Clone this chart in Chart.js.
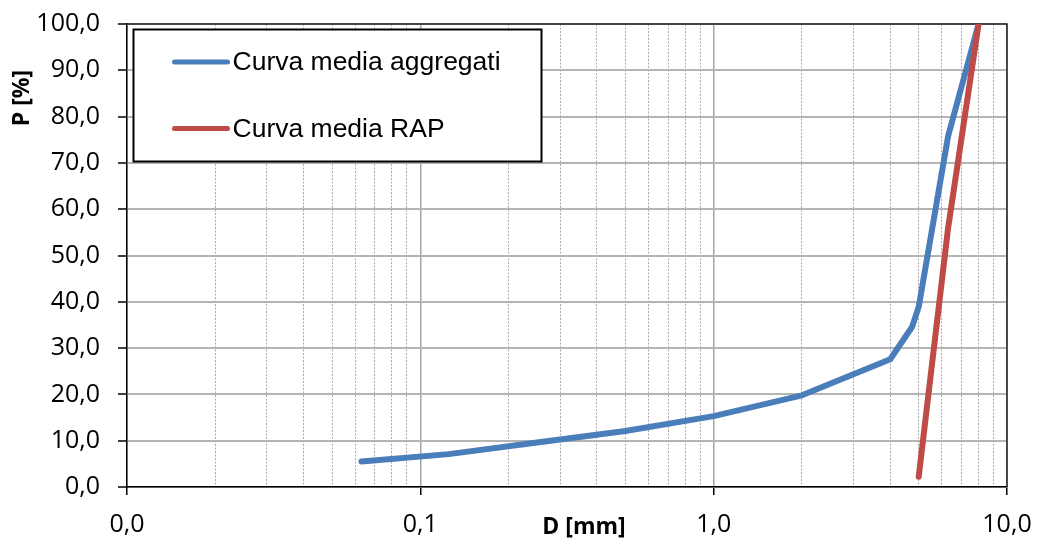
<!DOCTYPE html>
<html>
<head>
<meta charset="utf-8">
<script src="https://cdn.jsdelivr.net/npm/chart.js@4/dist/chart.umd.min.js"></script>
<style>
  html, body { margin: 0; padding: 0; background: #fff; }
  canvas { display: block; }
</style>
</head>
<body>
<canvas id="c" width="1038" height="543"></canvas>
<script>
// Grading curves: sieve size D [mm] vs passing P [%]
const sizesAggregati = [0.063, 0.125, 0.25, 0.5, 1, 2, 4, 4.75, 5, 6.3, 8];
const passAggregati  = [5.5, 7.1, 9.6, 12.1, 15.3, 19.8, 27.6, 34.6, 38.9, 75.8, 100];

const sizesRap = [5, 6.3, 8];
const passRap  = [2.2, 56, 100];

const seriesLabels = ['Curva media aggregati', 'Curva media RAP'];
const seriesColors = ['#4A7EBB', '#BE4B48'];

const xTitle = 'D [mm]';
const yTitle = 'P [%]';

const xMin = 0.01, xMax = 10;
const yMin = 0, yMax = 100, yStep = 10;

const fmt = v => Number(v).toFixed(1).replace('.', ',');
const isDecade = v => Math.abs(Math.log10(v) - Math.round(Math.log10(v))) < 1e-9;

const toPoints = (xs, ys) => xs.map((x, i) => ({ x: x, y: ys[i] }));

const TICK_FONT = { family: 'Open Sans', size: 25 };
const TITLE_FONT = "bold 23px 'Open Sans'";

// Top and right edges of the plot frame
const frame = {
  id: 'frame',
  beforeDatasetsDraw(chart) {
    const { ctx, chartArea: a } = chart;
    ctx.save();
    ctx.strokeStyle = '#222';
    ctx.lineWidth = 1.5;
    ctx.beginPath();
    ctx.moveTo(a.left, a.top);
    ctx.lineTo(a.right, a.top);
    ctx.lineTo(a.right, a.bottom);
    ctx.stroke();
    ctx.restore();
  }
};

// Axis titles and boxed legend drawn on top of the plot
const overlay = {
  id: 'overlay',
  afterDraw(chart) {
    const { ctx, chartArea } = chart;
    ctx.save();
    // axis titles
    ctx.fillStyle = '#000';
    ctx.font = TITLE_FONT;
    ctx.textAlign = 'center';
    ctx.textBaseline = 'middle';
    ctx.fillText(xTitle, chartArea.left + 457, chartArea.bottom + 40);
    ctx.save();
    ctx.translate(chartArea.left - 105, chartArea.top + 74);
    ctx.rotate(-Math.PI / 2);
    ctx.fillText(yTitle, 0, 0);
    ctx.restore();

    // legend box
    const bx = chartArea.left + 6.5, by = chartArea.top + 5.5, bw = 408, bh = 132;
    ctx.fillStyle = '#fff';
    ctx.fillRect(bx, by, bw, bh);
    ctx.lineWidth = 2;
    ctx.strokeStyle = '#000';
    ctx.strokeRect(bx, by, bw, bh);
    ctx.font = "26.5px 'Liberation Sans'";
    ctx.textAlign = 'left';
    ctx.textBaseline = 'middle';
    chart.data.datasets.forEach((ds, i) => {
      const y = by + 32.5 + i * 66.5;
      ctx.beginPath();
      ctx.lineCap = 'round';
      ctx.lineWidth = 5;
      ctx.strokeStyle = ds.borderColor;
      ctx.moveTo(bx + 41, y);
      ctx.lineTo(bx + 94, y);
      ctx.stroke();
      ctx.fillStyle = '#000';
      ctx.fillText(ds.label, bx + 99, y + 1);
    });
    ctx.restore();
  }
};

new Chart(document.getElementById('c'), {
  type: 'line',
  data: {
    datasets: [
      {
        label: seriesLabels[0],
        data: toPoints(sizesAggregati, passAggregati),
        borderColor: seriesColors[0],
        order: 1
      },
      {
        label: seriesLabels[1],
        data: toPoints(sizesRap, passRap),
        borderColor: seriesColors[1],
        order: 0
      }
    ]
  },
  plugins: [frame, overlay],
  options: {
    responsive: false,
    animation: false,
    devicePixelRatio: 1,
    layout: { autoPadding: false, padding: { top: 24, right: 31, left: 0, bottom: 0 } },
    elements: {
      line: { borderWidth: 6, tension: 0, borderCapStyle: 'round', borderJoinStyle: 'round', fill: false },
      point: { radius: 0, hoverRadius: 0 }
    },
    plugins: {
      legend: { display: false },
      tooltip: { enabled: false },
      title: { display: false }
    },
    scales: {
      x: {
        type: 'logarithmic',
        min: xMin,
        max: xMax,
        afterFit(scale) {
          scale.height = 56;
          scale.paddingLeft = 0;
          scale.paddingRight = 0;
        },
        afterBuildTicks(scale) {
          const ticks = [];
          for (let e = -2; e <= 0; e++) {
            for (let m = 1; m <= 9; m++) ticks.push({ value: +(m * Math.pow(10, e)).toPrecision(3) });
          }
          ticks.push({ value: 10 });
          scale.ticks = ticks;
        },
        ticks: {
          autoSkip: false,
          maxRotation: 0,
          padding: 15,
          color: '#000',
          font: TICK_FONT,
          callback: v => isDecade(v) ? fmt(v) : ''
        },
        grid: {
          color: c => (c.tick && isDecade(c.tick.value)) ? '#a6a6a6' : '#ababab',
          lineWidth: c => (c.tick && isDecade(c.tick.value)) ? 1.5 : 1,
          tickLength: 8,
          tickColor: c => (c.tick && isDecade(c.tick.value)) ? '#000' : 'rgba(0,0,0,0)',
          tickWidth: 1.5
        },
        border: {
          display: true,
          color: '#000',
          width: 1.5,
          dash: c => (c.tick && !isDecade(c.tick.value)) ? [2, 1.5] : []
        }
      },
      y: {
        type: 'linear',
        min: yMin,
        max: yMax,
        afterFit(scale) {
          scale.width = 127;
          scale.paddingTop = 0;
          scale.paddingBottom = 0;
        },
        ticks: {
          stepSize: yStep,
          padding: 18,
          color: '#000',
          font: TICK_FONT,
          callback: v => fmt(v)
        },
        grid: {
          color: '#b4b4b4',
          lineWidth: 2,
          tickLength: 9,
          tickColor: '#000',
          tickWidth: 1.5
        },
        border: { display: true, color: '#000', width: 1.5 }
      }
    }
  }
});
</script>
</body>
</html>
